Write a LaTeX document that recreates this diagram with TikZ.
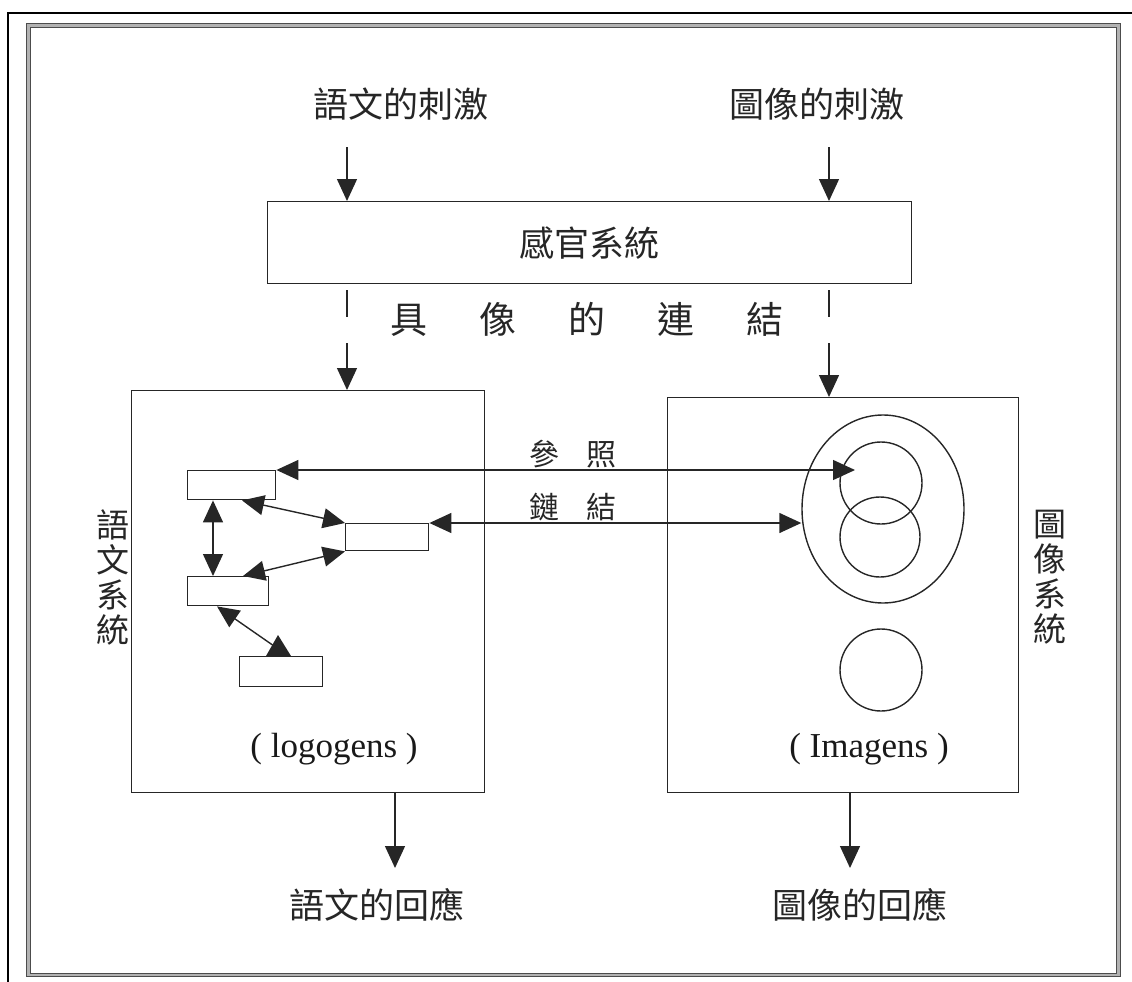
\documentclass[tikz,border=0pt]{standalone}
\usepackage{fontspec}
\setmainfont{Liberation Serif}
\newfontfamily\cjk{Noto Sans CJK TC}
\usetikzlibrary{arrows.meta,calc,shapes.geometric}
\begin{document}
\begin{tikzpicture}[x=1pt,y=-1pt,
  >={Triangle[length=22pt,width=20pt]},
  ln/.style={draw=black!85, line width=1.4pt},
  box/.style={ln, rectangle, inner sep=0pt, anchor=north west},
  small/.style={box},
  ring/.style={ln, circle, inner sep=0pt},
  big/.style={font=\cjk\fontsize{35}{35}\selectfont, text=black!85, inner sep=0pt},
  mid/.style={font=\cjk\fontsize{30}{30}\selectfont, text=black!85, inner sep=0pt},
  vert/.style={font=\cjk\fontsize{33}{35}\selectfont, text=black!85, inner sep=0pt, align=center},
  latin/.style={font=\fontsize{35}{35}\selectfont, text=black!90, inner sep=0pt, anchor=base}
]
\useasboundingbox (0,0) rectangle (1132,982);
% frames
\draw[line width=2pt] (8,982) -- (8,13) -- (1132,13);
\draw[draw=black!70, double=black!30, line width=1.2pt, double distance=2.4pt] (28.5,25.5) rectangle (1118.5,975);

% top texts
\node[big] (vstim) at (401,104) {語文的刺激};
\node[big] (pstim) at (817,104) {圖像的刺激};

% sensory box
\node[box, minimum width=644pt, minimum height=82pt] (sens) at (267,201) {};
\node[big] (senstxt) at (sens.center) {感官系統};

\coordinate (a1) at (347,147);
\coordinate (a2) at (829,147);
\draw[ln,->] (a1) -- (a1 |- sens.north);
\draw[ln,->] (a2) -- (a2 |- sens.north);

% concrete link label
\node[font=\cjk\fontsize{37}{37}\selectfont, text=black!85, inner sep=0pt] (link) at (587,319) {具\hspace{52pt}像\hspace{52pt}的\hspace{52pt}連\hspace{52pt}結};

% main boxes
\node[box, minimum width=353pt, minimum height=402pt] (lbox) at (131,390) {};
\node[box, minimum width=351pt, minimum height=395pt] (rbox) at (667,397) {};

% dashed links
\coordinate (d1) at (347,290); \coordinate (d2) at (347,317); \coordinate (d3) at (347,343);
\coordinate (e1) at (829,290); \coordinate (e2) at (829,317); \coordinate (e3) at (829,343);
\draw[ln] (d1) -- (d2);
\draw[ln,->] (d3) -- (d3 |- lbox.north);
\draw[ln] (e1) -- (e2);
\draw[ln,->] (e3) -- (e3 |- rbox.north);

% logogen boxes
\node[small, minimum width=88pt, minimum height=29pt] (A) at (187,470) {};
\node[small, minimum width=83pt, minimum height=27pt] (B) at (345,523) {};
\node[small, minimum width=81pt, minimum height=29pt] (C) at (187,576) {};
\node[small, minimum width=83pt, minimum height=30pt] (D) at (239,656) {};

\draw[ln,<->] ($(A.south west)+(26,0)$) -- ($(C.north west)+(26,0)$);
\draw[ln,<->] ($(A.south west)+(55,0)$) -- (B.north west);
\draw[ln,<->] ($(C.north west)+(56,0)$) -- (B.south west);
\draw[ln,<-] ($(C.south west)+(30,0)$) -- ($(D.north west)+(35,-10)$);
\fill[black!85] ($(D.north west)+(39,-21)$) -- ($(D.north west)+(27,0)$) -- ($(D.north west)+(52,0)$) -- cycle;

% imagens
\node[ln, ellipse, inner sep=0pt, minimum width=162pt, minimum height=188pt] (ell) at (883,509) {};
\node[ring, minimum size=82pt] (c1) at (881,483) {};
\node[ring, minimum size=80pt] (c2) at (880,537) {};
\node[ring, minimum size=82pt] (c3) at (881,670) {};
\coordinate (c1in) at (855,470);

\draw[ln,<->] (A.north east) -- (c1in);
\draw[ln,<->] (B.north east) -- (B.north east -| ell.west);
\node[mid] (ref) at (573,454) {參\hspace{28pt}照};
\node[mid] (lnk) at (573,507) {鏈\hspace{28pt}結};

% side labels
\node[vert] (vsys) at (113,577) {語\\文\\系\\統};
\node[vert] (psys) at (1050,577) {圖\\像\\系\\統};

% latin labels
\node[latin] (logo) at (334,757) {( logogens )};
\node[latin] (imag) at (869,757) {( Imagens )};

% outputs
\coordinate (b1) at (395,868);
\coordinate (b2) at (850,868);
\draw[ln,->] (b1 |- lbox.south) -- (b1);
\draw[ln,->] (b2 |- rbox.south) -- (b2);
\node[big] (vresp) at (377,905) {語文的回應};
\node[big] (presp) at (860,905) {圖像的回應};
\end{tikzpicture}
\end{document}
